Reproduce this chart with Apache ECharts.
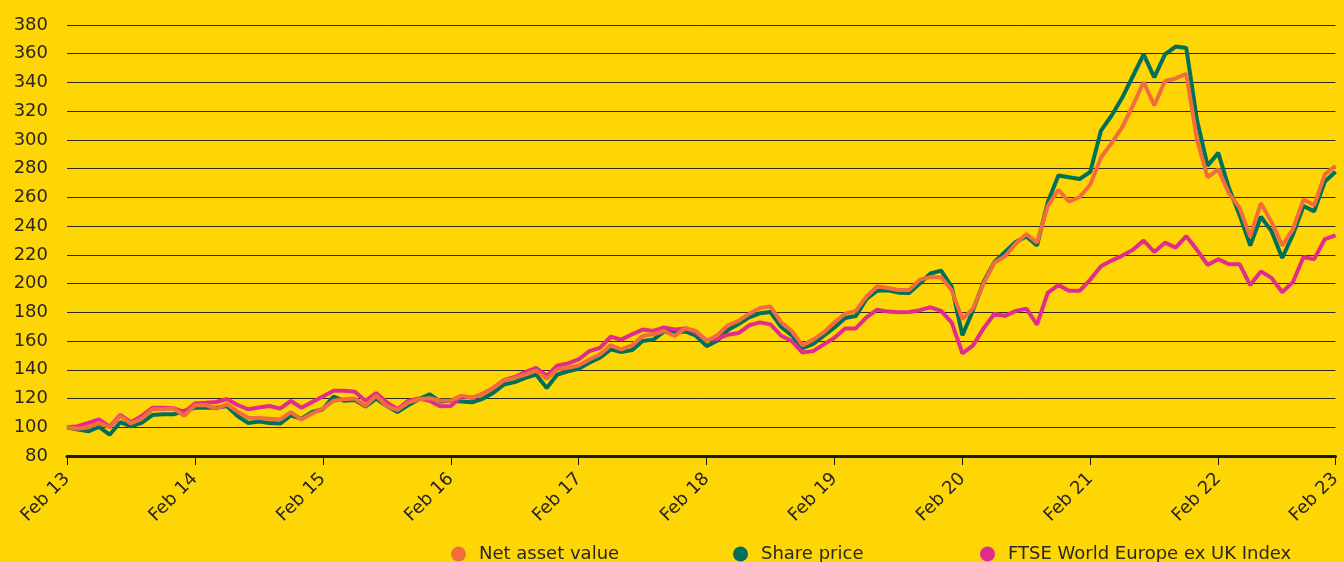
<!DOCTYPE html>
<html>
<head>
<meta charset="utf-8">
<title>Ten year performance</title>
<script src="https://cdn.jsdelivr.net/npm/echarts@6/dist/echarts.min.js"></script>
<style>
    html, body { margin: 0; padding: 0; background: #FFD605; }
    #chart { width: 1344px; height: 562px; }
</style>
</head>
<body>
<div id="chart"></div>
<script>
// monthly points, Feb 13 .. Feb 23 (rebased to 100)
const monthNames = ['Feb', 'Mar', 'Apr', 'May', 'Jun', 'Jul', 'Aug', 'Sep', 'Oct', 'Nov', 'Dec', 'Jan'];
const yearLabels = ['13', '14', '15', '16', '17', '18', '19', '20', '21', '22', '23'];

const navValues = [
    100, 99, 100, 103, 100, 107.8, 102.6, 106, 112.5, 112.5, 113, 108,
    115.3, 115.5, 113, 116, 111, 106.6, 106.5, 106, 105.4, 110.6, 105.4, 109.6,
    113, 118.4, 119.5, 120, 114.8, 121.9, 114.8, 112, 117.2, 119.5, 120.2, 118.6,
    118.5, 122, 120.5, 123.3, 127.4, 132.6, 134.4, 136.7, 139.5, 133.7, 140.2, 141.4,
    143, 147.2, 150.7, 157, 154.2, 157, 163.5, 164.7, 167, 163.5, 169, 167,
    160, 164, 171, 174, 179, 183, 184, 173, 167, 157, 161, 166,
    173, 179, 181, 191, 198, 197, 195.6, 195.5, 202.8, 204.5, 204.5, 195.3,
    175.3, 182.8, 200.3, 214.5, 219, 227.8, 234.5, 228.5, 254, 265.3, 257, 260.3,
    269, 287.8, 297.8, 309, 324, 340.3, 324, 341, 342.8, 346, 300.3, 274,
    279.5, 262.8, 252.8, 232.8, 256, 242.8, 226.5, 237.8, 258.5, 254.5, 276, 282
];

const shareValues = [
    100, 98.4, 97.2, 100.2, 94.8, 103.5, 100.7, 103, 108.5, 109, 109, 111.3,
    113.6, 113.6, 113.6, 114.8, 107.8, 103, 104, 103, 102.6, 108.2, 106, 110.6,
    112.5, 121.4, 118.4, 119, 114.4, 120, 114.8, 110.6, 115.3, 119.5, 123, 118,
    118.5, 118, 117.4, 119.8, 124, 129.8, 131.4, 134.4, 136.7, 127.4, 136.7, 139,
    140.7, 144.9, 148.4, 154.2, 152.3, 153.7, 160, 161, 166.5, 166.5, 166.7, 163.7,
    156.5, 160.2, 167.7, 171.9, 176.5, 179.3, 180.2, 169.8, 164, 155, 158, 163.7,
    169.5, 176, 177.4, 189.3, 195.1, 195.3, 193.7, 193.5, 200, 207, 209, 197.8,
    164, 181.5, 201.5, 215, 222, 229, 232.8, 226.5, 256.5, 275.3, 274, 272.8,
    277.8, 306.5, 317, 329.5, 344.5, 359.5, 343.5, 359.5, 365, 364, 314, 282,
    291, 266.5, 247.8, 226.5, 246.5, 236.5, 217.8, 234, 254, 250.3, 271, 277.8
];

const indexValues = [
    100, 100.7, 103, 105.4, 100.5, 108.7, 103.5, 107.8, 113.6, 113.6, 113.3, 110.5,
    116.5, 117, 117.6, 119.7, 115.5, 112.5, 113.7, 114.8, 113, 118.4, 113.6, 117.6,
    121.4, 125.4, 125.4, 124.7, 118.4, 123.8, 117.2, 112.5, 118.4, 120, 118.4, 114.6,
    114.8, 121.5, 120.5, 123.3, 127.4, 133, 135, 138.4, 141.4, 135.6, 143, 144.4,
    147.2, 153, 155.3, 163, 161, 164.7, 168, 167, 169.5, 168, 168.8, 166,
    160.5, 161.6, 164.4, 165.6, 171, 173, 171.6, 163.7, 160, 152, 153, 157.7,
    162.3, 168.8, 168.8, 176.5, 181.9, 180.5, 180, 180.3, 181.5, 183.5, 181, 172.8,
    151.5, 157, 169, 179, 177.5, 181, 182.5, 171.5, 193.5, 199, 195, 195,
    202.8, 212, 216, 219.5, 223.5, 230, 222, 228.5, 225, 233, 223.5, 213,
    217, 213.5, 213.5, 199, 208.5, 204, 194, 201, 218.5, 217, 231, 233.5
];

const yMin = 80;
const yMax = 380;
const yStep = 20;

// category labels, the last point is shown as Feb 23
const categories = [];
for (let y = 0; y < yearLabels.length - 1; y++) {
    monthNames.forEach((m, k) => {
        const yr = k === 11 ? yearLabels[y + 1] : yearLabels[y];
        categories.push(m + ' ' + yr);
    });
}
categories.length = navValues.length;
categories[categories.length - 1] = 'Feb ' + yearLabels[yearLabels.length - 1];

document.addEventListener('DOMContentLoaded', () => {
    initChart();
});

function initChart() {
    const chartDom = document.getElementById('chart');
    const myChart = echarts.init(chartDom);
    const last = categories.length - 1;
    const showYear = (idx) => idx % 12 === 0 || idx === last;
    const font = '"DejaVu Sans", "Noto Sans", sans-serif';
    const ink = '#2A2622';

    const legendBase = {
        top: 540,
        icon: 'circle',
        itemWidth: 15,
        itemHeight: 15,
        textStyle: {
            fontFamily: font,
            fontSize: 18,
            color: ink,
            padding: [0, 0, 0, 8]
        }
    };

    const option = {
        backgroundColor: '#FFD605',
        animation: false,
        textStyle: { fontFamily: font },
        grid: {
            top: 25,
            right: 7,
            bottom: 106,
            left: 67
        },
        legend: [
            Object.assign({ left: 446, data: ['Net asset value'] }, legendBase),
            Object.assign({ left: 728, data: ['Share price'] }, legendBase),
            Object.assign({ left: 975, data: ['FTSE World Europe ex UK Index'] }, legendBase)
        ],
        xAxis: {
            type: 'category',
            boundaryGap: false,
            data: categories,
            axisLine: {
                lineStyle: { color: '#1A1A1A', width: 3 }
            },
            axisTick: {
                interval: showYear,
                length: 9,
                lineStyle: { color: '#1A1A1A', width: 1 }
            },
            axisLabel: {
                interval: showYear,
                rotate: 45,
                margin: 20,
                fontSize: 18,
                color: ink,
                fontFamily: font
            }
        },
        yAxis: {
            type: 'value',
            min: yMin,
            max: yMax,
            interval: yStep,
            axisLine: { show: false },
            axisTick: { show: false },
            axisLabel: {
                margin: 19,
                fontSize: 18,
                color: ink,
                fontFamily: font
            },
            splitLine: {
                lineStyle: { color: '#2E2A10', width: 1 }
            }
        },
        series: [
            {
                name: 'Net asset value',
                type: 'line',
                data: navValues,
                symbol: 'none',
                z: 4,
                color: '#F26D3D',
                lineStyle: { color: '#F26D3D', width: 4 }
            },
            {
                name: 'Share price',
                type: 'line',
                data: shareValues,
                symbol: 'none',
                z: 2,
                color: '#00705A',
                lineStyle: { color: '#00705A', width: 4 }
            },
            {
                name: 'FTSE World Europe ex UK Index',
                type: 'line',
                data: indexValues,
                symbol: 'none',
                z: 3,
                color: '#E02C8C',
                lineStyle: { color: '#E02C8C', width: 4 }
            }
        ]
    };

    myChart.setOption(option);

    window.addEventListener('resize', () => {
        myChart.resize();
    });
}
</script>
</body>
</html>
